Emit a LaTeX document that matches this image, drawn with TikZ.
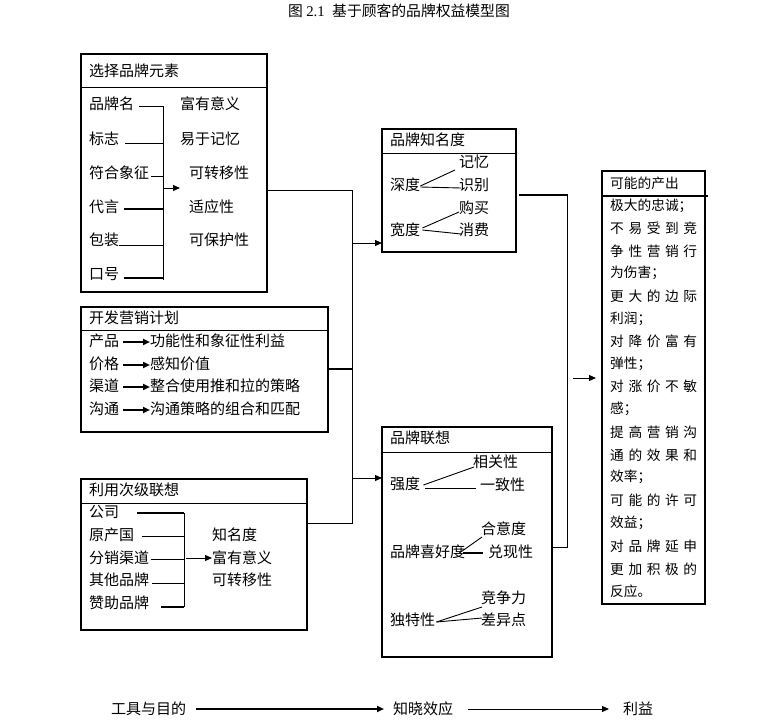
\documentclass[tikz,border=0pt]{standalone}
\usepackage{fontspec}
\setmainfont{Noto Sans CJK SC}
\newfontfamily\serifnum{Liberation Serif}
\usetikzlibrary{arrows.meta,calc}
\newcommand\jfive[5]{\makebox[87pt][l]{#1\hfill#2\hfill#3\hfill#4\hfill#5}}
\begin{document}
\begin{tikzpicture}[x=1pt,y=-1pt,
  t/.style={anchor=west,inner sep=0pt,font=\fontsize{15}{17}\selectfont},
  t6/.style={anchor=west,inner sep=0pt,font=\fontsize{13.7}{15}\selectfont},
  box/.style={draw,line width=1.8pt,anchor=north west,inner sep=0pt,outer sep=0pt},
  ln/.style={line width=0.9pt},
  tk/.style={line width=2.2pt},
  arr/.style={-{Triangle[length=7pt,width=6pt]},line width=1pt},
  arrthick/.style={-{Triangle[length=7pt,width=6pt]},line width=2pt}]
\useasboundingbox (0,0) rectangle (764,723);
\fill[white] (0,0) rectangle (764,723);

% title
\node[inner sep=0pt,font=\fontsize{14.8}{16}\selectfont] (title) at (399,11) {图 {\serifnum 2.1}\enspace 基于顾客的品牌权益模型图};

% ---------- box 1 ----------
\node[box,minimum width=186pt,minimum height=238pt] (b1) at (81,54) {};
\draw[ln] (81,87) -- (267,87);
\node[t] (b1t) at (89,71) {选择品牌元素};
\node[t] (i11) at (89,104) {品牌名};
\node[t] (i12) at (89,139) {标志};
\node[t] (i13) at (89,173) {符合象征};
\node[t] (i14) at (89,207) {代言};
\node[t] (i15) at (89,240) {包装};
\node[t] (i16) at (89,274) {口号};
\node[t] (r11) at (180,104) {富有意义};
\node[t] (r12) at (180,139) {易于记忆};
\node[t] (r13) at (189,173) {可转移性};
\node[t] (r14) at (189,207) {适应性};
\node[t] (r15) at (189,240) {可保护性};
\coordinate (v1a) at (163,106);
\coordinate (v1b) at (163,280);
\draw[ln] (v1a) -- (v1b);
\draw[ln] ([xshift=5pt,yshift=-2pt]i11.east) -- ([yshift=-2pt]i11.east -| v1a);
\draw[ln] ([xshift=6pt,yshift=-4pt]i12.east) -- ([yshift=-4pt]i12.east -| v1a);
\draw[ln] ([xshift=2pt,yshift=-3pt]i13.east) -- ([yshift=-3pt]i13.east -| v1a);
\draw[tk] ([xshift=5pt,yshift=-2pt]i14.east) -- ([yshift=-2pt]i14.east -| v1a);
\draw[ln] ([xshift=0pt,yshift=-5pt]i15.east) -- ([yshift=-5pt]i15.east -| v1a);
\draw[tk] ([xshift=5pt,yshift=-4pt]i16.east) -- ([yshift=-4pt]i16.east -| v1a);
\coordinate (a1) at (163,188);
\draw[arr] (a1) -- (180,188);

% ---------- box 2 ----------
\node[box,minimum width=247pt,minimum height=125pt] (b2) at (81,307) {};
\draw[line width=0.7pt] (81,330) -- (328,330);
\node[t] (b2t) at (89,318) {开发营销计划};
\node[t] (p1) at (89,341) {产品};
\node[t] (p2) at (89,364) {价格};
\node[t] (p3) at (89,386) {渠道};
\node[t] (p4) at (89,409) {沟通};
\node[t] (q1) at (150,341) {功能性和象征性利益};
\node[t] (q2) at (150,364) {感知价值};
\node[t] (q3) at (150,386) {整合使用推和拉的策略};
\node[t] (q4) at (150,409) {沟通策略的组合和匹配};
\foreach \k in {1,2,3,4}{
  \draw[arrthick] ([xshift=4pt,yshift=-1pt]p\k.east) -- ([yshift=-1pt]p\k.east -| q\k.west);
}

% ---------- box 3 ----------
\node[box,minimum width=226pt,minimum height=151pt] (b3) at (81,479) {};
\draw[ln] (81,503) -- (307,503);
\node[t] (b3t) at (89,490) {利用次级联想};
\node[t] (s1) at (89,512) {公司};
\node[t] (s2) at (89,535) {原产国};
\node[t] (s3) at (89,558) {分销渠道};
\node[t] (s4) at (89,580) {其他品牌};
\node[t] (s5) at (89,603) {赞助品牌};
\node[t] (u1) at (212,535) {知名度};
\node[t] (u2) at (212,558) {富有意义};
\node[t] (u3) at (212,580) {可转移性};
\coordinate (v3a) at (184,513);
\coordinate (v3b) at (184,607);
\draw[ln] (v3a) -- (v3b);
\draw[tk] ([xshift=18pt,yshift=-1pt]s1.east) -- ([yshift=-1pt]s1.east -| v3a);
\draw[ln] ([xshift=8pt,yshift=-1pt]s2.east) -- ([yshift=-1pt]s2.east -| v3a);
\draw[ln] ([xshift=2pt,yshift=-1pt]s3.east) -- ([yshift=-1pt]s3.east -| v3a);
\draw[ln] ([xshift=3pt,yshift=-3pt]s4.east) -- ([yshift=-3pt]s4.east -| v3a);
\draw[tk] ([xshift=12pt,yshift=-4pt]s5.east) -- ([yshift=-4pt]s5.east -| v3a);
\coordinate (a3) at (186,558);
\draw[arr] (a3) -- (u2.west);

% ---------- box 4 (品牌知名度) ----------
\node[box,minimum width=134pt,minimum height=123pt] (b4) at (382,129) {};
\draw[ln] (382,153) -- (516,153);
\node[t] (b4t) at (390,140) {品牌知名度};
\node[t] (d1) at (390,185) {深度};
\node[t] (d2) at (390,230) {宽度};
\node[t] (m1) at (459,162) {记忆};
\node[t] (m2) at (459,185) {识别};
\node[t] (m3) at (459,208) {购买};
\node[t] (m4) at (459,230) {消费};
\draw[ln] ([yshift=-1pt]d1.east) -- ([xshift=-4pt,yshift=-8pt]m1.west);
\draw[ln] ([yshift=-2pt]d1.east) -- ([xshift=2pt,yshift=-3pt]m2.west);
\draw[ln] ([xshift=2pt,yshift=2pt]d2.east) -- ([xshift=0pt,yshift=-4pt]m3.west);
\draw[ln] ([xshift=2pt,yshift=0pt]d2.east) -- ([xshift=2pt,yshift=-4pt]m4.west);

% ---------- box 5 (品牌联想) ----------
\node[box,minimum width=170pt,minimum height=230pt] (b5) at (382,427) {};
\draw[ln] (382,452) -- (552,452);
\node[t] (b5t) at (390,438) {品牌联想};
\node[t] (e1) at (390,484) {强度};
\node[t] (e2) at (390,552) {品牌喜好度};
\node[t] (e3) at (390,620) {独特性};
\node[t] (f1) at (473,462) {相关性};
\node[t] (f2) at (480,485) {一致性};
\node[t] (f3) at (481,529) {合意度};
\node[t] (f4) at (488,552) {兑现性};
\node[t] (f5) at (481,598) {竞争力};
\node[t] (f6) at (481,620) {差异点};
\draw[ln] ([xshift=3pt,yshift=-1pt]e1.east) -- ([xshift=1pt,yshift=-5pt]f1.west);
\draw[ln] ([xshift=5pt,yshift=-4pt]e1.east) -- ([xshift=-4pt,yshift=-3pt]f2.west);
\draw[ln] ([xshift=-6pt,yshift=-1pt]e2.east) -- ([xshift=1pt,yshift=-8pt]f3.west);
\draw[tk] ([xshift=-2pt,yshift=-1pt]e2.east) -- ([xshift=-5pt,yshift=-1pt]f4.west);
\draw[ln] ([xshift=1pt,yshift=-2pt]e3.east) -- ([xshift=1pt,yshift=-9pt]f5.west);
\draw[ln] ([xshift=1pt,yshift=-2pt]e3.east) -- ([xshift=1pt,yshift=2pt]f6.west);

% ---------- box 6 (可能的产出) ----------
\node[box,minimum width=103pt,minimum height=433pt] (b6) at (602,171) {};
\draw[line width=2.2pt] (602,196) -- (708,196);
\node[t6] (b6t) at (610,183) {可能的产出};
\node[t6] (o1) at (610,206) {极大的忠诚；};
\node[t6] (o2) at (610,228) {\jfive{不}{易}{受}{到}{竞}};
\node[t6] (o3) at (610,251) {\jfive{争}{性}{营}{销}{行}};
\node[t6] (o4) at (610,273) {为伤害；};
\node[t6] (o5) at (610,296) {\jfive{更}{大}{的}{边}{际}};
\node[t6] (o6) at (610,319) {利润；};
\node[t6] (o7) at (610,341) {\jfive{对}{降}{价}{富}{有}};
\node[t6] (o8) at (610,364) {弹性；};
\node[t6] (o9) at (610,386) {\jfive{对}{涨}{价}{不}{敏}};
\node[t6] (o10) at (610,409) {感；};
\node[t6] (o11) at (610,432) {\jfive{提}{高}{营}{销}{沟}};
\node[t6] (o12) at (610,455) {\jfive{通}{的}{效}{果}{和}};
\node[t6] (o13) at (610,477) {效率；};
\node[t6] (o14) at (610,500) {\jfive{可}{能}{的}{许}{可}};
\node[t6] (o15) at (610,523) {效益；};
\node[t6] (o16) at (610,546) {\jfive{对}{品}{牌}{延}{申}};
\node[t6] (o17) at (610,569) {\jfive{更}{加}{积}{极}{的}};
\node[t6] (o18) at (610,591) {反应。};

% ---------- spine connectors ----------
\coordinate (j1) at (352,190);
\coordinate (j2) at (352,369);
\coordinate (j3) at (352,523);
\coordinate (ja) at (352,243);
\coordinate (jb) at (352,478);
\draw[ln] (b1.east |- j1) -- (j1) -- (j3) -- (b3.east |- j3);
\draw[tk] (b2.east |- j2) -- (j2);
\draw[arr] (ja) -- (ja -| b4.west);
\draw[arr] (jb) -- (jb -| b5.west);

\coordinate (k1) at (567,195);
\coordinate (k2) at (567,547);
\draw[tk] ([xshift=3pt]b4.east |- k1) -- ([xshift=0.5pt]k1);
\draw[ln] (k1) -- (k2) -- (b5.east |- k2);
\coordinate (ka) at (573,378);
\draw[arr] (ka) -- ([xshift=-6pt]ka -| b6.west);

% ---------- bottom axis ----------
\node[t] (x1) at (111,709) {工具与目的};
\node[t] (x2) at (393,709) {知晓效应};
\node[t] (x3) at (623,709) {利益};
\draw[arrthick] ([xshift=10pt]x1.east) -- ([xshift=-9pt]x2.west);
\draw[arr] ([xshift=15pt]x2.east) -- ([xshift=-14pt]x3.west);
\end{tikzpicture}
\end{document}
